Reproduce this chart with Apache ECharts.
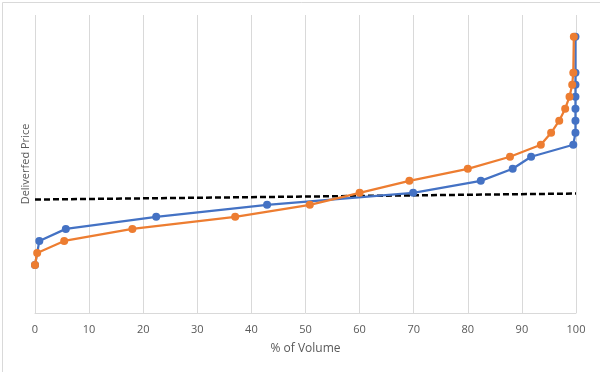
<!DOCTYPE html>
<html>
<head>
<meta charset="utf-8">
<script src="https://cdn.jsdelivr.net/npm/echarts@6/dist/echarts.min.js"></script>
<style>
html,body{margin:0;padding:0;background:#fff;}
#chart{width:600px;height:372px;}
</style>
</head>
<body>
<div id="chart"></div>
<script>
var xTicks = [0, 10, 20, 30, 40, 50, 60, 70, 80, 90, 100];
var blueX = [0, 0.8, 5.7, 22.4, 42.9, 69.9, 82.4, 88.3, 91.7, 99.5, 99.9, 99.9, 99.9, 99.9, 99.9, 99.9, 99.9];
var blueY = [4, 6, 7, 8, 9, 10, 11, 12, 13, 14, 15, 16, 17, 18, 19, 20, 23];
var orangeX = [0, 0.4, 5.4, 18.0, 37.0, 50.8, 60.0, 69.2, 80.0, 87.8, 93.5, 95.4, 96.9, 98.0, 98.8, 99.3, 99.5, 99.6];
var orangeY = [4, 5, 6, 7, 8, 9, 10, 11, 12, 13, 14, 15, 16, 17, 18, 19, 20, 23];
var refX = [0, 100];
var refY = [9.44, 9.94];

function pairs(xs, ys) { return xs.map(function (x, i) { return [x, ys[i]]; }); }

var chart = echarts.init(document.getElementById('chart'));
var font = '"Open Sans", "Liberation Sans", sans-serif';
chart.setOption({
  animation: false,
  backgroundColor: '#fff',
  textStyle: { fontFamily: font },
  graphic: [{
    type: 'rect', left: 0, top: 0,
    shape: { x: 0.5, y: 0.5, width: 599, height: 371 },
    style: { fill: 'none', stroke: '#d9d9d9', lineWidth: 1 },
    silent: true, z: -1
  }],
  grid: { left: 35, right: 24, top: 15, bottom: 59 },
  xAxis: {
    type: 'value', min: 0, max: 100, interval: 10,
    name: '% of Volume', nameLocation: 'middle', nameGap: 30,
    nameTextStyle: { color: '#595959', fontSize: 12, fontFamily: font },
    axisLine: { show: true, lineStyle: { color: '#d9d9d9', width: 1 } },
    axisTick: { show: false },
    axisLabel: { color: '#595959', fontSize: 11, margin: 11, fontFamily: font },
    splitLine: { show: true, lineStyle: { color: '#d9d9d9', width: 1 } }
  },
  yAxis: {
    type: 'value', min: 0, max: 24.8,
    name: 'Deliverfed Price', nameLocation: 'middle', nameGap: 4,
    nameTextStyle: { color: '#595959', fontSize: 11, fontFamily: font },
    axisLine: { show: false }, axisTick: { show: false },
    axisLabel: { show: false }, splitLine: { show: false }
  },
  series: [
    {
      type: 'line', data: pairs(refX, refY), symbol: 'none',
      lineStyle: { color: '#000', width: 2.5, type: [6, 3] }, z: 1
    },
    {
      type: 'line', data: pairs(blueX, blueY), symbol: 'circle', symbolSize: 8,
      lineStyle: { color: '#4472C4', width: 2.25 }, itemStyle: { color: '#4472C4' }, z: 2
    },
    {
      type: 'line', data: pairs(orangeX, orangeY), symbol: 'circle', symbolSize: 8,
      lineStyle: { color: '#ED7D31', width: 2.25 }, itemStyle: { color: '#ED7D31' }, z: 3
    }
  ]
});
</script>
</body>
</html>
